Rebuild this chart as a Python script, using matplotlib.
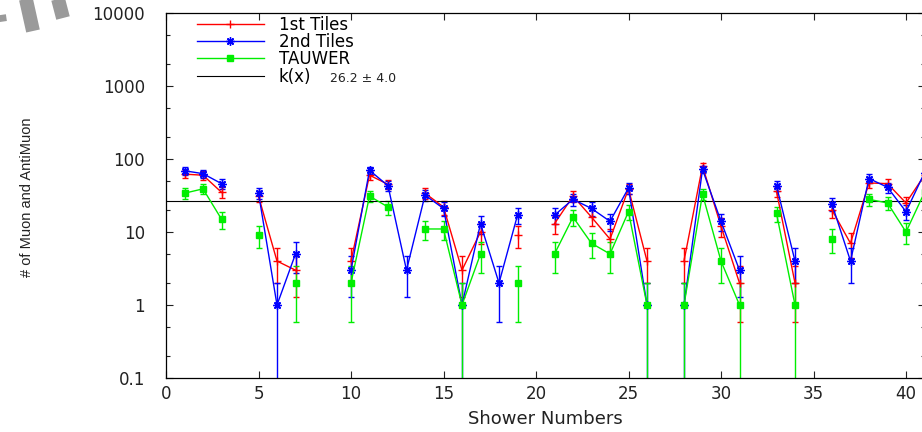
import numpy as np
import matplotlib
matplotlib.use('Agg')
import matplotlib.pyplot as plt
from matplotlib.lines import Line2D
from matplotlib.ticker import LogLocator, MultipleLocator, FuncFormatter

nan = np.nan

# shower index and counts (nan = no entry)
shower = np.arange(1, 42)
first_tiles = [62, 60, 35, nan, 31, 4, 3, nan, nan, 4,
               60, 45, nan, 34, 22, 3, 10, nan, 9, nan,
               13, 31, 16, 8, 39, 4, nan, 4, 80, 12,
               2, nan, 36, 2, nan, 20, 7, 47, 46, 25, 60]
second_tiles = [69, 63, 46, nan, 34, 1, 5, nan, nan, 3,
                70, 43, 3, 32, 21, 1, 13, 2, 17, nan,
                17, 28, 21, 14, 40, 1, nan, 1, 72, 14,
                3, nan, 43, 4, nan, 24, 4, 54, 41, 19, 65]
tauwer = [34, 39, 15, nan, 9, nan, 2, nan, nan, 2,
          31, 22, nan, 11, 11, 1, 5, nan, 2, nan,
          5, 16, 7, 5, 19, 1, nan, 1, 33, 4,
          1, nan, 18, 1, nan, 8, nan, 28, 25, 10, 35]
k_value = 26.2
k_error = 4.0

plt.rcParams['font.family'] = ['DejaVu Sans']

fig = plt.figure(figsize=(9.22, 4.32), dpi=100)
ax = fig.add_axes([166 / 922, 1 - 378 / 432, 758.5 / 922, 365 / 432])


def draw(values, color, marker, ms):
    v = np.array(values, dtype=float)
    err = np.sqrt(v)
    lower = np.minimum(err, v - 1e-3)  # poisson bars, clipped for the log axis
    ax.errorbar(shower, v, yerr=[lower, err], color=color, lw=1,
                marker=marker, ms=ms, mew=1, capsize=2.5,
                elinewidth=1, capthick=1)


draw(first_tiles, '#ff0000', '+', 6)
draw(second_tiles, '#0000ff', (8, 2, 0), 6)
draw(tauwer, '#00ee00', 's', 5)
ax.axhline(k_value, color='black', lw=0.8)

ax.set_yscale('log')
ax.set_xlim(0, 41)
ax.set_ylim(0.1, 10000)
ax.xaxis.set_major_locator(MultipleLocator(5))
ax.yaxis.set_major_locator(LogLocator(base=10, numticks=10))
ax.yaxis.set_minor_locator(LogLocator(base=10, subs=(2, 5), numticks=10))
ax.yaxis.set_major_formatter(FuncFormatter(lambda v, _: f'{v:g}'))
ax.tick_params(which='both', direction='in', top=True, right=True,
               colors='#222222', labelsize=12)
ax.tick_params(which='major', length=5, width=0.8)
ax.tick_params(which='minor', length=3, width=0.8)
ax.tick_params(axis='y', which='major', pad=15)
ax.tick_params(axis='x', which='major', pad=5)
for s in ax.spines.values():
    s.set_linewidth(0.9)

ax.set_xlabel('Shower Numbers', fontsize=13, color='#222222', labelpad=5)
fig.text(27 / 922, 1 - 197 / 432, '# of Muon and AntiMuon', rotation=90,
         ha='center', va='center', fontsize=10.5, color='#222222',
         family=['Liberation Sans', 'DejaVu Sans'])

handles = [
    Line2D([], [], color='#ff0000', lw=1, marker='+', ms=6, mew=1),
    Line2D([], [], color='#0000ff', lw=1, marker=(8, 2, 0), ms=6, mew=1),
    Line2D([], [], color='#00ee00', lw=1, marker='s', ms=5),
    Line2D([], [], color='black', lw=0.8),
]
labels = ['1st Tiles', '2nd Tiles', 'TAUWER', 'k(x)']
ax.legend(handles, labels, loc='upper left', frameon=False, fontsize=12,
          bbox_to_anchor=(197 / 922, 1 - 16 / 432),
          bbox_transform=fig.transFigure, borderpad=0, borderaxespad=0,
          handlelength=4.0, handletextpad=0.9, labelspacing=-0.05)
fig.text(330 / 922, 1 - 78 / 432, f'{k_value:.1f} \u00b1 {k_error:.1f}',
         fontsize=9, va='center', color='#222222')

# grey watermark stripes in the top left corner
for (x0, y0), (x1, y1) in [((-4, -5), (0, 22)), ((25, -5), (33, 31)),
                           ((57, -5), (63, 18))]:
    fig.add_artist(Line2D([x0 / 922, x1 / 922], [1 - y0 / 432, 1 - y1 / 432],
                          transform=fig.transFigure, color='#9a9a9a',
                          lw=10, solid_capstyle='butt'))

fig.savefig('out.png', dpi=100)
